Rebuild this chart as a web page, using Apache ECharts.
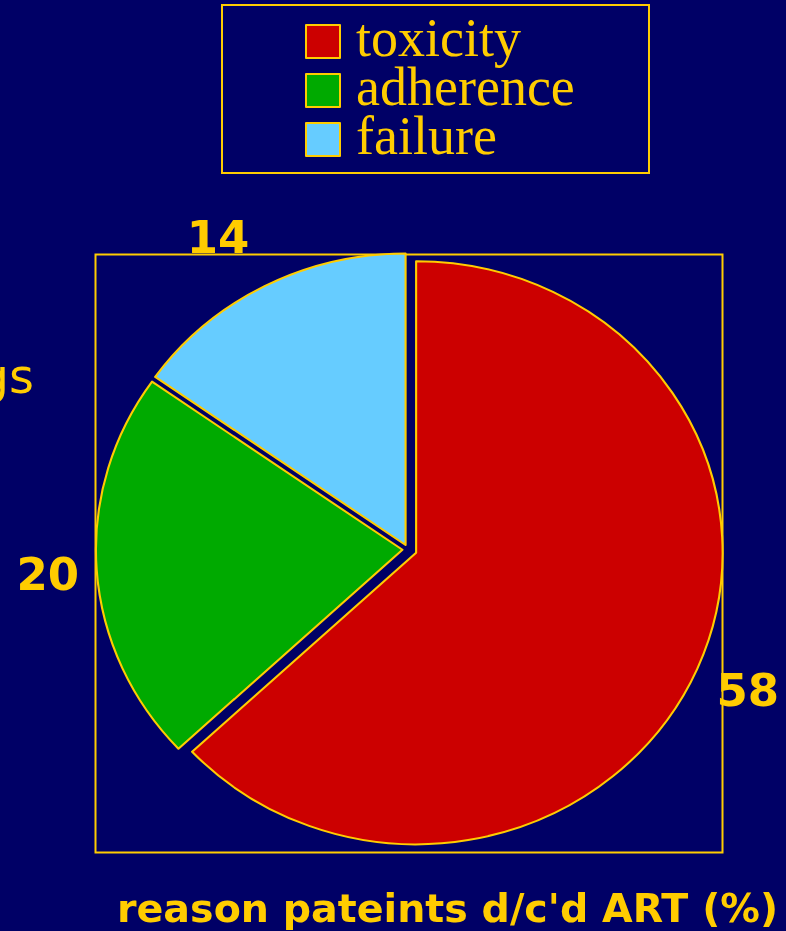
<!DOCTYPE html>
<html>
<head>
<meta charset="utf-8">
<script src="https://cdn.jsdelivr.net/npm/echarts@6/dist/echarts.min.js"></script>
<style>
  html, body { margin: 0; padding: 0; background: #000066; }
  #wrap { position: relative; width: 786px; height: 931px; overflow: hidden; }
  #bg, #pie { position: absolute; left: 0; top: 0; width: 786px; height: 931px; }
  #pie { transform: scaleX(1.0515); transform-origin: 408px 549px; }
</style>
</head>
<body>
<div id="wrap">
  <div id="bg"></div>
  <div id="pie"></div>
</div>
<script>
// ---- data ----
const categories = ['toxicity', 'adherence', 'failure'];
const values = [58, 20, 14];
const chartTitle = "reason pateints d/c'd ART (%)";
const sideText = 'drugs';

// ---- styles ----
const GOLD = '#FFCC00';
const NAVY = '#000066';
const sliceColors = ['#CC0000', '#00AA00', '#66CCFF'];
const explode = [8.4, 5.3, 5.0];
const labelNudge = [[5, -1], [4, 4], [-22, 16]];
const CENTER = [408, 549.4];

// background instance: legend, title, frame, value labels
const bg = echarts.init(document.getElementById('bg'), null, { renderer: 'canvas' });
bg.setOption({
  backgroundColor: NAVY,
  animation: false,
  title: {
    text: chartTitle,
    left: 117,
    top: 892,
    padding: 0,
    textStyle: { color: GOLD, fontFamily: 'DejaVu Sans', fontWeight: 'bold', fontSize: 39.6 }
  },
  legend: {
    orient: 'vertical',
    left: 305,
    top: 14.5,
    padding: 0,
    itemWidth: 34,
    itemHeight: 33,
    itemGap: -5,
    icon: 'rect',
    selectedMode: false,
    data: categories.map((name, i) => ({
      name,
      itemStyle: { color: sliceColors[i], borderColor: GOLD, borderWidth: 2, opacity: 1 }
    })),
    textStyle: {
      color: GOLD, fontFamily: 'Liberation Serif', fontSize: 54,
      padding: [0, 0, 0, 11]
    }
  },
  graphic: [
    { type: 'rect', z: -10, shape: { x: 222, y: 5, width: 427, height: 168 },
      style: { fill: 'none', stroke: GOLD, lineWidth: 2 } },
    { type: 'rect', z: -10, shape: { x: 95.5, y: 254.5, width: 627, height: 598 },
      style: { fill: 'none', stroke: GOLD, lineWidth: 2 } },
    { type: 'text', z: -10, x: 34, y: 381,
      style: { text: sideText, fill: GOLD, font: '48px "DejaVu Sans"', textAlign: 'right', textVerticalAlign: 'middle' } }
  ],
  series: [{
    type: 'pie',
    center: CENTER,
    radius: [342, 382],
    startAngle: 90,
    clockwise: true,
    silent: true,
    emphasis: { disabled: true },
    labelLine: { show: false },
    itemStyle: { color: 'rgba(0,0,0,0)', borderWidth: 0 },
    label: {
      show: true, position: 'inside', formatter: '{c}',
      color: GOLD, fontFamily: 'DejaVu Sans', fontWeight: 'bold', fontSize: 45
    },
    data: categories.map((name, i) => ({ name, value: values[i], label: { offset: labelNudge[i] } }))
  }]
});

// pie instance (stretched slightly horizontally, as in the reference)
const pie = echarts.init(document.getElementById('pie'), null, { renderer: 'svg' });
function sliceSeries(i) {
  return {
    type: 'pie',
    center: CENTER,
    radius: 291.5,
    startAngle: 90,
    clockwise: true,
    selectedMode: 'multiple',
    selectedOffset: explode[i],
    silent: true,
    animation: false,
    emphasis: { disabled: true },
    label: { show: false },
    labelLine: { show: false },
    data: categories.map((name, j) => ({
      name,
      value: values[j],
      selected: j === i,
      itemStyle: j === i
        ? { color: sliceColors[j], borderColor: GOLD, borderWidth: 2 }
        : { color: 'rgba(0,0,0,0)', borderWidth: 0 }
    }))
  };
}
pie.setOption({
  backgroundColor: 'transparent',
  animation: false,
  series: [sliceSeries(0), sliceSeries(1), sliceSeries(2)]
});
</script>
</body>
</html>
